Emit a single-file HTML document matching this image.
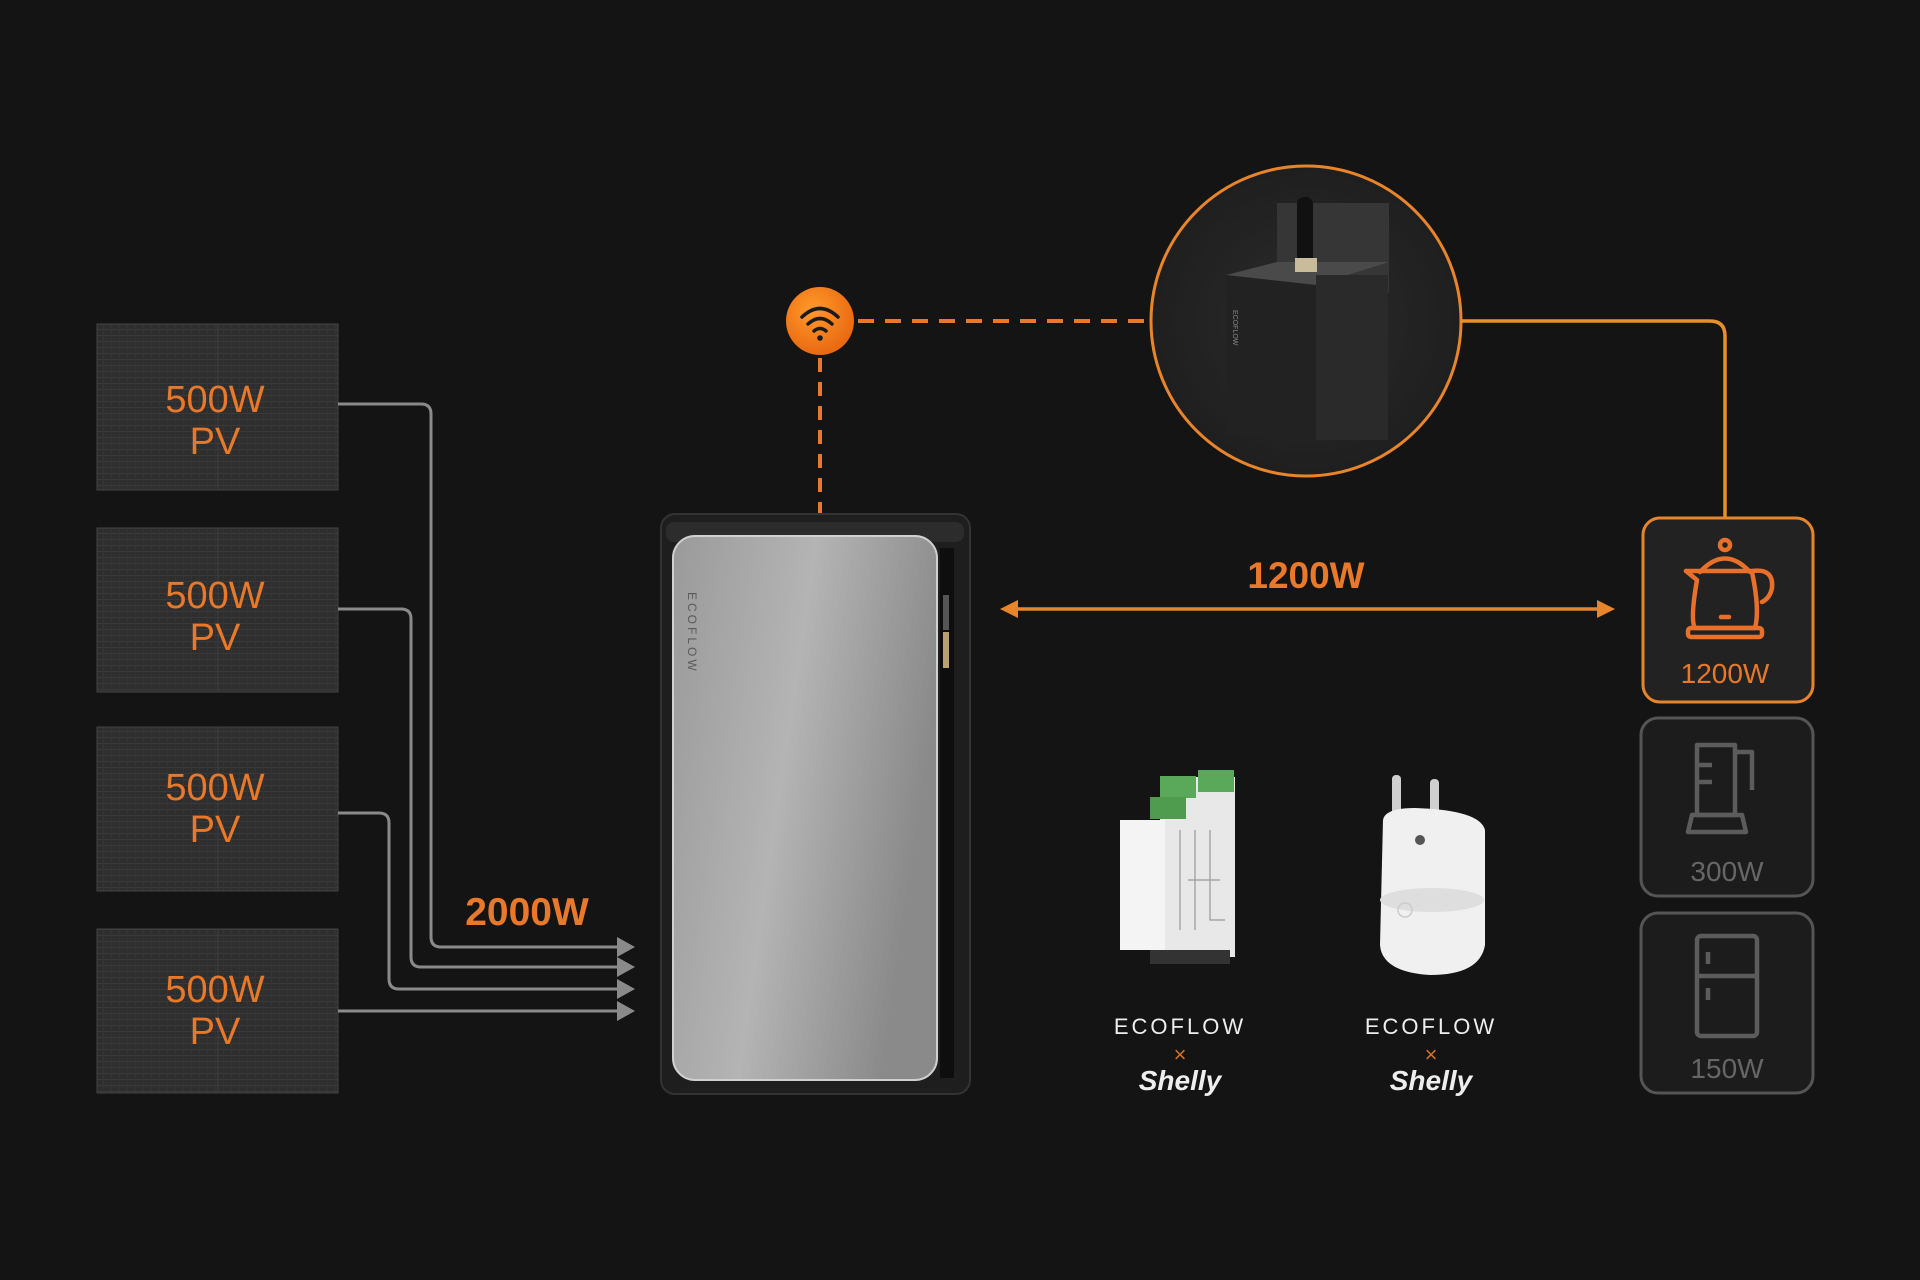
<!DOCTYPE html>
<html><head><meta charset="utf-8"><style>
html,body{margin:0;padding:0;background:#141414;}
svg{display:block}
text{font-family:"Liberation Sans",sans-serif;}
</style></head><body>
<svg width="1920" height="1280" viewBox="0 0 1920 1280" xmlns="http://www.w3.org/2000/svg">
<defs>
<pattern id="pv" width="8" height="6" patternUnits="userSpaceOnUse">
<rect width="8" height="6" fill="#2e2e2e"/>
<rect y="5" width="8" height="1" fill="#3a3a3a"/>
<rect x="7" width="1" height="6" fill="#343434"/>
</pattern>
<linearGradient id="silver" x1="0" y1="0" x2="1" y2="0.3">
<stop offset="0" stop-color="#9a9a9a"/><stop offset="0.5" stop-color="#b4b4b4"/><stop offset="1" stop-color="#8a8a8a"/>
</linearGradient>
<radialGradient id="wifi" cx="0.4" cy="0.35" r="0.7">
<stop offset="0" stop-color="#ff9a2a"/><stop offset="1" stop-color="#e8650f"/>
</radialGradient>
<radialGradient id="circ" cx="0.5" cy="0.5" r="0.6">
<stop offset="0" stop-color="#2c2c2c"/><stop offset="1" stop-color="#1c1c1c"/>
</radialGradient>
</defs>

<g>
<rect x="97" y="324" width="241" height="166" fill="url(#pv)" stroke="#444" stroke-width="1"/>
<rect x="97" y="528" width="241" height="164" fill="url(#pv)" stroke="#444" stroke-width="1"/>
<rect x="97" y="727" width="241" height="164" fill="url(#pv)" stroke="#444" stroke-width="1"/>
<rect x="97" y="929" width="241" height="164" fill="url(#pv)" stroke="#444" stroke-width="1"/>
<line x1="218" y1="324" x2="218" y2="490" stroke="#3d3d3d"/>
<line x1="218" y1="528" x2="218" y2="692" stroke="#3d3d3d"/>
<line x1="218" y1="727" x2="218" y2="891" stroke="#3d3d3d"/>
<line x1="218" y1="929" x2="218" y2="1093" stroke="#3d3d3d"/>
</g>
<g fill="#e8782a" font-size="38" text-anchor="middle">
<text x="215" y="412">500W</text><text x="215" y="454">PV</text>
<text x="215" y="608">500W</text><text x="215" y="650">PV</text>
<text x="215" y="800">500W</text><text x="215" y="842">PV</text>
<text x="215" y="1002">500W</text><text x="215" y="1044">PV</text>
</g>

<g fill="none" stroke="#8a8a8a" stroke-width="3">
<path d="M338 404 H421 Q431 404 431 414 V937 Q431 947 441 947 H622"/>
<path d="M338 609 H401 Q411 609 411 619 V957 Q411 967 421 967 H622"/>
<path d="M338 813 H379 Q389 813 389 823 V979 Q389 989 399 989 H622"/>
<path d="M338 1011 H622"/>
</g>
<g fill="#8a8a8a">
<polygon points="617,937 635,947 617,957"/>
<polygon points="617,957 635,967 617,977"/>
<polygon points="617,979 635,989 617,999"/>
<polygon points="617,1001 635,1011 617,1021"/>
</g>
<text x="527" y="925" fill="#e8782a" font-size="39" font-weight="bold" text-anchor="middle">2000W</text>

<line x1="820" y1="358" x2="820" y2="514" stroke="#e8782a" stroke-width="4" stroke-dasharray="14,10"/>
<line x1="858" y1="321" x2="1151" y2="321" stroke="#e8782a" stroke-width="4" stroke-dasharray="16,11"/>
<circle cx="820" cy="321" r="34" fill="url(#wifi)"/>
<g fill="none" stroke="#1a1a1a" stroke-width="3.5" stroke-linecap="round">
<path d="M802 317 Q820 300 838 317"/>
<path d="M808 324 Q820 313 832 324"/>
<path d="M814 331 Q820 326 826 331"/>
</g>
<circle cx="820" cy="338" r="2.8" fill="#1a1a1a"/>

<rect x="661" y="514" width="309" height="580" rx="14" fill="#1e1e1e" stroke="#333" stroke-width="2"/>
<rect x="666" y="522" width="298" height="20" rx="8" fill="#2c2c2c"/>
<rect x="673" y="536" width="264" height="544" rx="22" fill="url(#silver)" stroke="#d0d0d0" stroke-width="2"/>
<rect x="940" y="548" width="14" height="530" fill="#0e0e0e"/>
<rect x="943" y="595" width="6" height="35" fill="#555"/>
<rect x="943" y="632" width="6" height="36" fill="#b8a070"/>
<text x="0" y="0" transform="translate(688,592) rotate(90)" fill="#5a5a5a" font-size="12" letter-spacing="3">ECOFLOW</text>

<circle cx="1306" cy="321" r="155" fill="url(#circ)" stroke="#e8852a" stroke-width="3"/>
<g>
<rect x="1277" y="203" width="112" height="90" fill="#363636"/>
<rect x="1226" y="275" width="90" height="160" fill="#222"/>
<polygon points="1226,275 1277,262 1389,262 1316,285" fill="#4a4a4a"/>
<rect x="1316" y="275" width="72" height="165" fill="#2a2a2a"/>
<rect x="1297" y="197" width="16" height="75" rx="7" fill="#111"/>
<rect x="1295" y="258" width="22" height="14" fill="#c8bc9a"/>
<text x="0" y="0" transform="translate(1233,310) rotate(90)" fill="#888" font-size="7">ECOFLOW</text>
</g>
<path d="M1461 321 H1710 Q1725 321 1725 336 V518" fill="none" stroke="#e8912a" stroke-width="3.5"/>

<line x1="1012" y1="609" x2="1602" y2="609" stroke="#e8852a" stroke-width="3.5"/>
<polygon points="1000,609 1018,600 1018,618" fill="#e8852a"/>
<polygon points="1615,609 1597,600 1597,618" fill="#e8852a"/>
<text x="1306" y="588" fill="#e8782a" font-size="37" font-weight="bold" text-anchor="middle">1200W</text>

<rect x="1643" y="518" width="170" height="184" rx="17" fill="#222" stroke="#e8852a" stroke-width="3"/>
<g fill="none" stroke="#e8702a" stroke-width="4.5" stroke-linejoin="round" stroke-linecap="round">
<circle cx="1725" cy="545" r="5"/>
<path d="M1700 572 Q1725 545 1750 572"/>
<path d="M1686 571 H1752 Q1774 568 1772 588 Q1770 598 1762 602"/>
<path d="M1686 571 L1697 580 Q1690 620 1695 628 H1755 Q1760 610 1752 572"/>
<rect x="1688" y="628" width="74" height="9" rx="3"/>
<line x1="1721" y1="617" x2="1729" y2="617"/>
</g>
<text x="1725" y="683" fill="#e8782a" font-size="28" text-anchor="middle">1200W</text>

<rect x="1641" y="718" width="172" height="178" rx="17" fill="#1c1c1c" stroke="#555" stroke-width="3"/>
<g fill="none" stroke="#5c5c5c" stroke-width="4.5" stroke-linejoin="round">
<path d="M1697 745 H1735 V815 H1697 Z"/>
<path d="M1735 752 H1752 V790"/>
<path d="M1692 815 H1742 L1746 832 H1688 Z"/>
<line x1="1697" y1="765" x2="1712" y2="765"/>
<line x1="1697" y1="782" x2="1712" y2="782"/>
</g>
<text x="1727" y="881" fill="#666" font-size="28" text-anchor="middle">300W</text>

<rect x="1641" y="913" width="172" height="180" rx="17" fill="#1c1c1c" stroke="#555" stroke-width="3"/>
<g fill="none" stroke="#5c5c5c" stroke-width="4.5">
<rect x="1697" y="936" width="60" height="100" rx="4"/>
<line x1="1697" y1="976" x2="1757" y2="976"/>
<line x1="1708" y1="952" x2="1708" y2="964"/>
<line x1="1708" y1="988" x2="1708" y2="1000"/>
</g>
<text x="1727" y="1078" fill="#666" font-size="28" text-anchor="middle">150W</text>

<g>
<rect x="1160" y="777" width="75" height="180" fill="#e8e8e8"/>
<rect x="1120" y="820" width="45" height="130" fill="#f4f4f4"/>
<rect x="1160" y="776" width="36" height="22" fill="#5aa85a"/>
<rect x="1198" y="770" width="36" height="22" fill="#5aa85a"/>
<rect x="1150" y="797" width="36" height="22" fill="#4f9c4f"/>
<g stroke="#999" stroke-width="1.2" fill="none">
<path d="M1180 830 V930 M1195 830 V930 M1210 830 V920 H1225 M1188 880 H1220"/>
</g>
<rect x="1150" y="950" width="80" height="14" fill="#333"/>
</g>

<g>
<rect x="1392" y="775" width="9" height="50" rx="4" fill="#cfcfcf"/>
<rect x="1430" y="779" width="9" height="50" rx="4" fill="#cfcfcf"/>
<path d="M1383 820 Q1385 808 1415 808 Q1480 810 1485 830 V945 Q1480 975 1430 975 Q1382 972 1380 945 Z" fill="#f0f0f0"/>
<ellipse cx="1432" cy="900" rx="52" ry="12" fill="#dedede"/>
<circle cx="1420" cy="840" r="5" fill="#555"/>
<circle cx="1405" cy="910" r="7" fill="none" stroke="#ccc" stroke-width="1.5"/>
</g>

<g text-anchor="middle">
<text x="1180" y="1034" fill="#eee" font-size="22" letter-spacing="3">ECOFLOW</text>
<text x="1180" y="1062" fill="#d0702a" font-size="22">×</text>
<text x="1180" y="1090" fill="#eee" font-size="28" font-style="italic" font-weight="bold" font-family="Liberation Serif, serif">Shelly</text>
<text x="1431" y="1034" fill="#eee" font-size="22" letter-spacing="3">ECOFLOW</text>
<text x="1431" y="1062" fill="#d0702a" font-size="22">×</text>
<text x="1431" y="1090" fill="#eee" font-size="28" font-style="italic" font-weight="bold" font-family="Liberation Serif, serif">Shelly</text>
</g>
</svg>
</body></html>
